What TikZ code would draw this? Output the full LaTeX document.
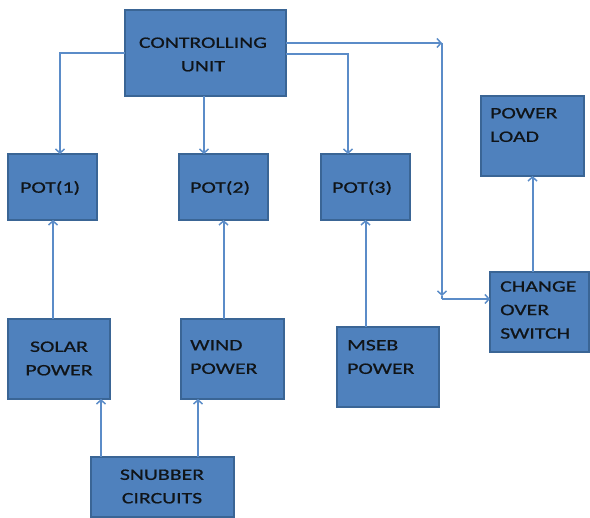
\documentclass[tikz,border=0pt]{standalone}
\usepackage{fontspec}
\setmainfont[FakeStretch=1.36,FakeBold=0.6]{Carlito}
\usetikzlibrary{arrows.meta}
\definecolor{boxfill}{HTML}{4F81BD}
\definecolor{boxline}{HTML}{3A6595}
\definecolor{conn}{HTML}{5B8CC8}
\definecolor{txt}{HTML}{101418}
\tikzset{
  box/.style={draw=boxline, line width=1.5pt, fill=boxfill, inner sep=0pt, outer sep=0pt},
  lbl/.style={text=txt, font=\fontsize{16}{23.5}\selectfont, inner sep=0pt, align=left},
  arr/.style={draw=conn, line width=2pt, -{Straight Barb[length=4pt,width=9pt,line width=1.5pt]}},
  ln/.style={draw=conn, line width=2pt}
}
\begin{document}
\begin{tikzpicture}[x=1pt,y=-1pt]
\useasboundingbox (0,0) rectangle (590,518);
% boxes
\node[box, minimum width=161, minimum height=86] (cu) at (205.5,53) {};
\node[box, minimum width=89, minimum height=66] (p1) at (52.5,187) {};
\node[box, minimum width=89, minimum height=66] (p2) at (223.5,187) {};
\node[box, minimum width=89, minimum height=66] (p3) at (365.5,187) {};
\node[box, minimum width=103, minimum height=80] (pl) at (532.5,136) {};
\node[box, minimum width=99, minimum height=80] (cos) at (539.5,312) {};
\node[box, minimum width=102, minimum height=80] (mseb) at (388,367) {};
\node[box, minimum width=102, minimum height=80] (solar) at (59,359) {};
\node[box, minimum width=103, minimum height=80] (wind) at (232.5,359) {};
\node[box, minimum width=143, minimum height=60] (snub) at (162.5,487) {};
% labels
\node[lbl, align=center] (tcu) at (203,54.5) {CONTROLLING\\UNIT};
\node[lbl, anchor=west] (tp1) at (20,188) {POT(1)};
\node[lbl, anchor=west] (tp2) at (190,188) {POT(2)};
\node[lbl, anchor=west] (tp3) at (332,188) {POT(3)};
\node[lbl, anchor=west] (tpl) at (490,125) {POWER\\LOAD};
\node[lbl, anchor=west] (tcos) at (500,310) {CHANGE\\OVER\\SWITCH};
\node[lbl, anchor=west] (tmseb) at (347,357) {MSEB\\POWER};
\node[lbl, align=center] (tsolar) at (59,358.5) {SOLAR\\POWER};
\node[lbl, anchor=west] (twind) at (190,357) {WIND\\POWER};
\node[lbl, align=center] (tsnub) at (162,486.5) {SNUBBER\\CIRCUITS};
% junction coordinates
\coordinate (c1) at (442,43);
\coordinate (c2) at (442,299);
% connectors
\draw[arr] (cu.west) -| ([xshift=7.5]p1.north);
\draw[arr] ([xshift=-1.5]cu.south) -- ([xshift=-1.5]cu.south |- p2.north);
\draw[arr] ([yshift=-1]cu.east) -| ([xshift=-17.5]p3.north);
\draw[arr] ([yshift=10]cu.east) -- (c1);
\draw[arr] (c1) -- ([yshift=3]c2);
\draw[ln] ([yshift=3]c2) -- (c2);
\draw[arr] (c2) -- (cos.west |- c2);
\draw[arr] ([xshift=-6]solar.north) -- ([xshift=-6]solar.north |- p1.south);
\draw[arr] (p2.south |- wind.north) -- (p2.south);
\draw[arr] (p3.south |- mseb.north) -- (p3.south);
\draw[arr] (pl.south |- cos.north) -- (pl.south);
\draw[arr] (snub.north -| 101,0) -- (solar.south -| 101,0);
\draw[arr] (snub.north -| 198,0) -- (wind.south -| 198,0);
\end{tikzpicture}
\end{document}
